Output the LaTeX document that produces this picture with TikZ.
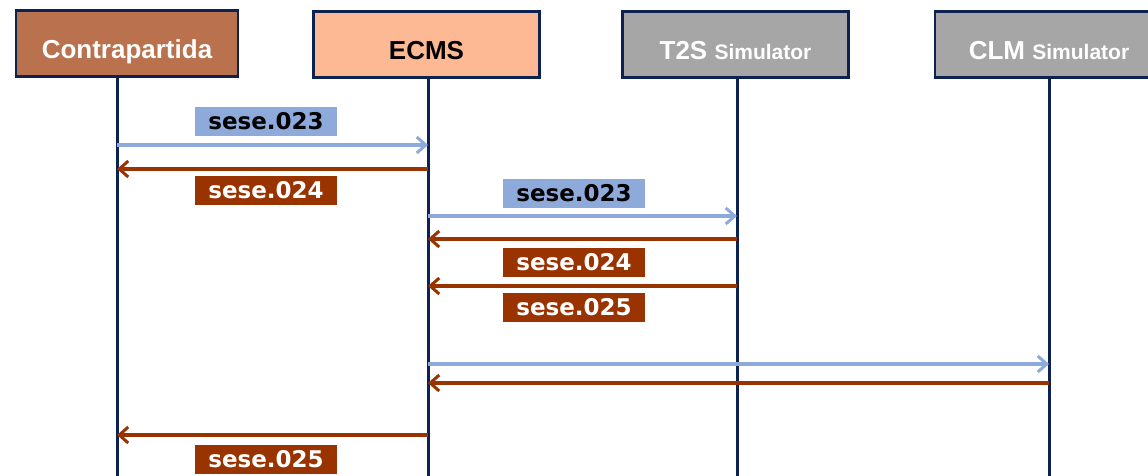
\documentclass[tikz,border=0pt]{standalone}
\usepackage{fontspec}
\setmainfont{Liberation Sans}
\newfontfamily\lblfont{DejaVu Sans}
\usepackage{tikz}
\usetikzlibrary{arrows.meta}

\definecolor{navy}{RGB}{14,34,81}
\definecolor{contrabrown}{RGB}{185,113,78}
\definecolor{peach}{RGB}{252,185,148}
\definecolor{simgray}{RGB}{166,166,166}
\definecolor{reqblue}{RGB}{142,170,219}
\definecolor{resbrown}{RGB}{153,51,0}

\tikzset{
  actor/.style={draw=navy, line width=2.5pt, minimum width=226pt, minimum height=66pt,
    inner sep=0pt, text height=30pt, text depth=1pt, font=\bfseries\fontsize{26}{30}\selectfont},
  lifeline/.style={draw=navy, line width=3pt},
  req/.style={draw=reqblue, line width=3.2pt, -{Straight Barb[length=9pt,width=16pt,line width=3pt]}},
  res/.style={draw=resbrown, line width=3.2pt, -{Straight Barb[length=9pt,width=16pt,line width=3pt]}},
  reqlbl/.style={fill=reqblue, text=black, minimum width=142pt, minimum height=29pt, inner sep=0pt,
    font=\lblfont\bfseries\fontsize{23}{26}\selectfont},
  reslbl/.style={reqlbl, fill=resbrown, text=white},
}
\newcommand{\smallsim}{{\fontsize{21}{24}\selectfont Simulator}}

\begin{document}
\begin{tikzpicture}[x=1pt,y=-1pt]
		\clip (0,0) rectangle (1148,475) ;
		\fill[white] (0,0) rectangle (1148,475) ;
		% Actors
		\node[actor, fill=contrabrown, text=white, minimum width=222pt] (Contra) at (127,43.5) {Contrapartida} ;
		\node[actor, fill=peach, text=black] (ECMS) at (426.5,44.5) {ECMS} ;
		\node[actor, fill=simgray, text=white] (T2S) at (735.5,44.5) {T2S \smallsim} ;
		\node[actor, fill=simgray, text=white, minimum width=228pt] (CLM) at (1049,44.5) {CLM \smallsim} ;
		% Lifelines
		\coordinate (ContraB) at (117,480) ;
		\coordinate (ECMSB) at (428,480) ;
		\coordinate (T2SB) at (737,480) ;
		\coordinate (CLMB) at (1049,480) ;
		\draw[lifeline] (Contra.south -| ContraB) -- (ContraB) ;
		\draw[lifeline] (ECMS.south -| ECMSB) -- (ECMSB) ;
		\draw[lifeline] (T2S.south -| T2SB) -- (T2SB) ;
		\draw[lifeline] (CLM.south -| CLMB) -- (CLMB) ;
		% Contrapartida - ECMS
		\draw[req] (ContraB |- 0,145) -- (ECMSB |- 0,145) ;
		\node[reqlbl] (m1) at (266,121) {sese.023} ;
		\draw[res] (ECMSB |- 0,169) -- (ContraB |- 0,169) ;
		\node[reslbl] (m2) at (266,190.5) {sese.024} ;
		% ECMS - T2S
		\draw[req] (ECMSB |- 0,216) -- (T2SB |- 0,216) ;
		\node[reqlbl] (m3) at (574,193.5) {sese.023} ;
		\draw[res] (T2SB |- 0,239) -- (ECMSB |- 0,239) ;
		\node[reslbl] (m4) at (574,262) {sese.024} ;
		\draw[res] (T2SB |- 0,286) -- (ECMSB |- 0,286) ;
		\node[reslbl] (m5) at (574,307.5) {sese.025} ;
		% ECMS - CLM
		\draw[req] (ECMSB |- 0,364) -- (CLMB |- 0,364) ;
		\draw[res] (CLMB |- 0,383) -- (ECMSB |- 0,383) ;
		% ECMS - Contrapartida
		\draw[res] (ECMSB |- 0,435) -- (ContraB |- 0,435) ;
		\node[reslbl] (m6) at (266,459) {sese.025} ;
	\end{tikzpicture}
\end{document}
